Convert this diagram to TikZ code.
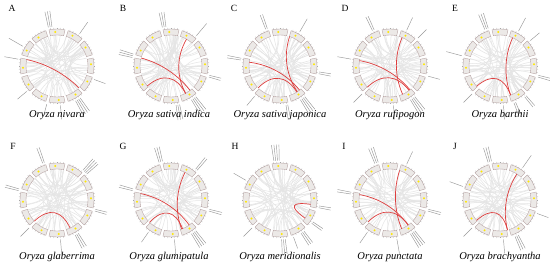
\documentclass[tikz,border=0pt]{standalone}
\usepackage{fontspec}
\setmainfont{Liberation Serif}
\usepackage{tikz}

\definecolor{linkred}{RGB}{222,62,62}
\definecolor{chrfill}{RGB}{236,233,231}
\definecolor{chredge}{RGB}{180,160,160}

\tikzset{
  chrbox/.style={draw=chredge, fill=chrfill, line width=0.35pt},
  genedot/.style={fill=yellow!90!orange},
  tickmark/.style={gray!70, line width=0.3pt},
  chordline/.style={gray!20, line width=0.5pt},
  redlink/.style={linkred, line width=0.7pt},
  genelabel/.style={black!40, line width=0.45pt},
  panellabel/.style={font=\fontsize{9.5}{11}\selectfont, inner sep=0pt},
  species/.style={font=\fontsize{10.5}{12}\selectfont\itshape, inner sep=0pt}
}

% link between two angles on the inner circle of centre #2
\newcommand{\circlink}[4][redlink]{%
  \draw[#1] ([shift={(#3:31)}]#2) .. controls ([shift={(#3:11)}]#2) and ([shift={(#4:11)}]#2) .. ([shift={(#4:31)}]#2);}

% gene name groups: angle/count/length
\newcommand{\genelabels}[2]{%
  \foreach \ang/\cnt/\len in {#2} {
    \foreach \k in {1,...,\cnt} {
      \pgfmathsetmacro{\ta}{\ang+(\k-(\cnt+1)/2)*2.6}
      \pgfmathsetmacro{\te}{39.5+\len}
      \draw[genelabel] ([shift={(\ta:39.5)}]#1) -- ([shift={(\ta:\te)}]#1);
    }
  }}

% chords, chromosomes and ticks of one circle
\newcommand{\circospanel}[2]{%
  \pgfmathsetseed{#2}
  \foreach \i in {1,...,55} {
    \pgfmathsetmacro{\angA}{random(0,359)}
    \pgfmathsetmacro{\angB}{\angA+random(50,310)}
    \circlink[chordline]{#1}{\angA}{\angB}
  }
  \foreach \a in {0,30,...,330} {
    \draw[chrbox] ([shift={(\a-12.5:31)}]#1) arc[start angle=\a-12.5, end angle=\a+12.5, radius=31]
      -- ([shift={(\a+12.5:37)}]#1) arc[start angle=\a+12.5, end angle=\a-12.5, radius=37] -- cycle;
    \fill[genedot] ([shift={(\a+3:34)}]#1) circle (1.1pt);
    \foreach \off in {-10,-5,...,10}
      \draw[tickmark] ([shift={(\a+\off:37)}]#1) -- ([shift={(\a+\off:38.3)}]#1);
  }}

\begin{document}
\begin{tikzpicture}[x=1pt, y=1pt]
  \fill[white] (0,0) rectangle (550,267);
  \useasboundingbox (0,0) rectangle (550,267);

  % 1. Centres
  \coordinate (cA) at (57,201);
  \coordinate (cB) at (171,201);
  \coordinate (cC) at (280,201);
  \coordinate (cD) at (390,201);
  \coordinate (cE) at (500,201);
  \coordinate (cF) at (57,67);
  \coordinate (cG) at (171,67);
  \coordinate (cH) at (280,67);
  \coordinate (cI) at (390,67);
  \coordinate (cJ) at (500,67);

  % 2. Circles
  \circospanel{cA}{11}
  \circospanel{cB}{12}
  \circospanel{cC}{13}
  \circospanel{cD}{14}
  \circospanel{cE}{15}
  \circospanel{cF}{16}
  \circospanel{cG}{17}
  \circospanel{cH}{18}
  \circospanel{cI}{19}
  \circospanel{cJ}{20}

  % 3. Red links
  \circlink{cA}{168}{-45}
  \circlink{cB}{165}{-52}
  \circlink{cB}{60}{-62}
  \circlink{cB}{220}{-62}
  \circlink{cC}{173}{-51}
  \circlink{cC}{72}{-56}
  \circlink{cC}{225}{-57}
  \circlink{cD}{170}{-50}
  \circlink{cD}{67}{-66}
  \circlink{cD}{223}{-52}
  \circlink{cE}{66}{-70}
  \circlink{cE}{221}{-70}
  \circlink{cF}{223}{-65}
  \circlink{cG}{168}{-54}
  \circlink{cG}{63}{-70}
  \circlink{cG}{226}{-68}
  \circlink{cH}{-8}{-36}
  \circlink{cI}{170}{-54}
  \circlink{cI}{72}{-68}
  \circlink{cI}{225}{-54}
  \circlink{cJ}{57}{-76}
  \circlink{cJ}{221}{-76}

  % 4. Gene labels
  \genelabels{cA}{100/3/16, 55/1/14, 150/1/16, 170/1/14, -20/1/12, -58/4/16, -85/1/14, -105/1/12, -140/1/12}
  \genelabels{cB}{100/3/15, 50/1/16, 165/3/14, -15/2/12, -55/4/16, -80/3/15}
  \genelabels{cC}{110/2/15, 60/1/15, 170/2/14, -10/2/12, -55/4/16, -80/2/15, -130/1/12}
  \genelabels{cD}{115/2/15, 65/1/14, 45/1/12, 170/1/14, -15/1/12, -55/4/16, -85/1/14, -135/1/12}
  \genelabels{cE}{110/3/16, 62/1/15, 40/1/12, 165/1/16, -15/2/13, -50/2/13, -68/2/13, -85/1/14, -135/1/12}
  \genelabels{cF}{110/2/16, 45/4/15, 165/2/14, -15/2/12, -60/3/15, -85/1/16, -135/1/12}
  \genelabels{cG}{105/3/15, 50/2/15, 165/2/14, -15/2/13, -55/4/16, -85/1/16, -125/1/12}
  \genelabels{cH}{95/4/16, 150/1/14, -10/2/12, -35/2/12, -55/3/14, -70/1/12, -85/3/15, -135/1/12}
  \genelabels{cI}{110/3/16, 65/1/14, 170/2/14, -15/2/13, -55/4/16, -80/1/15, -125/1/13}
  \genelabels{cJ}{105/3/15, 55/1/15, 160/1/14, -20/1/12, -65/3/15, -85/1/14, -135/1/12}

  % 5. Panel letters
  \node[panellabel] (labA) at (12,259) {A};
  \node[panellabel] (labB) at (123,259) {B};
  \node[panellabel] (labC) at (234,259) {C};
  \node[panellabel] (labD) at (345,259) {D};
  \node[panellabel] (labE) at (455,259) {E};
  \node[panellabel] (labF) at (13,121) {F};
  \node[panellabel] (labG) at (123,121) {G};
  \node[panellabel] (labH) at (235,121) {H};
  \node[panellabel] (labI) at (344,121) {I};
  \node[panellabel] (labJ) at (455,121) {J};

  % 6. Species names
  \node[species] (capA) at (57,152) {Oryza nivara};
  \node[species] (capB) at (169,152) {Oryza sativa indica};
  \node[species] (capC) at (280,152) {Oryza sativa japonica};
  \node[species] (capD) at (390,152) {Oryza rufipogon};
  \node[species] (capE) at (500,152) {Oryza barthii};
  \node[species] (capF) at (57,10) {Oryza glaberrima};
  \node[species] (capG) at (169,10) {Oryza glumipatula};
  \node[species] (capH) at (280,10) {Oryza meridionalis};
  \node[species] (capI) at (390,10) {Oryza punctata};
  \node[species] (capJ) at (500,10) {Oryza brachyantha};
\end{tikzpicture}
\end{document}
